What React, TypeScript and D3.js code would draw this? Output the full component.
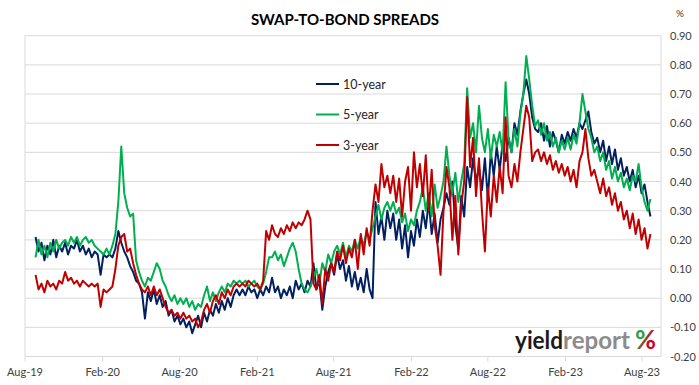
import React from "react";
import * as d3 from "d3";

// weekly readings, first week starting 26 Aug 2019
const firstWeek = new Date(2019, 7, 26);

const tenYear = [
  0.21, 0.16, 0.19, 0.13, 0.18, 0.15, 0.2, 0.14, 0.18, 0.16,
  0.19, 0.15, 0.18, 0.17, 0.2, 0.16, 0.18, 0.15, 0.17, 0.14,
  0.16, 0.15, 0.08, 0.15, 0.14, 0.15, 0.14, 0.17, 0.23, 0.19,
  0.16, 0.14, 0.11, 0.09, 0.06, 0.05, 0.02, -0.07, 0.02, -0.01,
  0.03, -0.02, 0.01, -0.03, -0.01, -0.06, -0.04, -0.08, -0.06, -0.09,
  -0.07, -0.1, -0.08, -0.12, -0.09, -0.06, -0.1, -0.05, -0.08, -0.04,
  -0.06, -0.02, -0.05, -0.01, -0.04, 0.0, -0.03, 0.01, 0.03, 0.01,
  0.03, 0.01, 0.04, 0.02, 0.03, 0.0, 0.03, 0.01, 0.04, 0.02,
  0.07, 0.02, 0.04, 0.0, 0.03, 0.01, 0.04, 0.0, 0.06, 0.03,
  0.05, 0.02, 0.06, 0.04, 0.12, 0.03, 0.06, -0.04, 0.04, 0.09,
  0.12, 0.08, 0.15, 0.1, 0.13, 0.06, 0.11, 0.04, 0.09, 0.03,
  0.07, 0.02, 0.1, 0.03, 0.0, 0.33, 0.22, 0.28, 0.2, 0.3,
  0.24, 0.29, 0.2, 0.27, 0.17, 0.25, 0.14, 0.23, 0.18, 0.27,
  0.21, 0.3, 0.24, 0.33, 0.22, 0.29, 0.19, 0.27, 0.31, 0.36,
  0.32, 0.4, 0.25, 0.17, 0.35, 0.28, 0.45, 0.38, 0.48, 0.4,
  0.45, 0.37, 0.48, 0.34, 0.5, 0.42, 0.52, 0.44, 0.53, 0.47,
  0.55, 0.5, 0.6, 0.56, 0.64, 0.7, 0.75, 0.7, 0.62, 0.58,
  0.57, 0.6, 0.54, 0.59, 0.52, 0.57, 0.54, 0.5, 0.56, 0.53,
  0.57, 0.54, 0.58, 0.55, 0.6, 0.58, 0.61, 0.64, 0.57, 0.53,
  0.55, 0.5, 0.54, 0.47, 0.52, 0.46, 0.51, 0.44, 0.48, 0.42,
  0.45, 0.4, 0.44, 0.38, 0.42, 0.36, 0.39, 0.33, 0.28,
];

const fiveYear = [
  0.14, 0.2, 0.15, 0.18, 0.14, 0.19, 0.16, 0.2, 0.17, 0.19,
  0.2, 0.18, 0.21, 0.19, 0.21, 0.18, 0.2, 0.21, 0.19, 0.2,
  0.18, 0.17, 0.16, 0.15, 0.17, 0.15, 0.18, 0.22, 0.33, 0.52,
  0.36, 0.31, 0.28, 0.29, 0.13, 0.09, 0.06, 0.04, 0.07, 0.06,
  0.09, 0.12, 0.1, 0.06, 0.04, 0.01, -0.01, 0.01, -0.02, 0.0,
  -0.02, 0.0, -0.03, -0.01, -0.04, -0.02, -0.03, 0.01, 0.04, -0.01,
  0.02, -0.01, 0.02, 0.04, 0.02, 0.05, 0.04, 0.06, 0.05, 0.06,
  0.05, 0.06, 0.04, 0.05, 0.06, 0.04, 0.03, 0.05, 0.09, 0.14,
  0.14, 0.16, 0.13, 0.15, 0.11, 0.14, 0.17, 0.19, 0.16, 0.1,
  0.05, 0.03, 0.02, 0.04, 0.07, 0.1, 0.05, 0.12, 0.09, 0.15,
  0.12, 0.16, 0.18, 0.15, 0.19, 0.14, 0.18, 0.16, 0.2, 0.17,
  0.21, 0.18, 0.23, 0.2, 0.24, 0.28, 0.32, 0.27, 0.31, 0.33,
  0.3, 0.33, 0.29, 0.31, 0.26, 0.29, 0.23, 0.27, 0.25, 0.3,
  0.33, 0.38, 0.3, 0.36, 0.28, 0.39, 0.31, 0.35, 0.4, 0.52,
  0.42, 0.36, 0.43, 0.33, 0.4, 0.46, 0.72, 0.55, 0.6, 0.5,
  0.66, 0.55, 0.5, 0.58, 0.48, 0.56, 0.52, 0.57, 0.5, 0.74,
  0.55, 0.5, 0.58, 0.52, 0.63, 0.7, 0.83, 0.75, 0.66, 0.59,
  0.61, 0.56, 0.6, 0.54, 0.57, 0.52, 0.55, 0.5, 0.54, 0.51,
  0.55, 0.51, 0.56, 0.53, 0.6, 0.7, 0.64, 0.58, 0.55, 0.5,
  0.52, 0.47, 0.5, 0.44, 0.47, 0.41, 0.45, 0.4, 0.43, 0.38,
  0.41, 0.37, 0.42, 0.4, 0.46, 0.38, 0.33, 0.3, 0.34,
];

const threeYear = [
  0.08, 0.03, 0.05, 0.02, 0.06, 0.04, 0.05, 0.03, 0.06, 0.05,
  0.09, 0.06, 0.07, 0.05, 0.06, 0.04, 0.06, 0.05, 0.04, 0.05,
  0.04, 0.05, -0.03, 0.03, 0.02, 0.03, 0.04, 0.1, 0.18, 0.21,
  0.22, 0.16, 0.17, 0.12, 0.08, 0.05, 0.03, 0.02, 0.04, 0.01,
  0.04, 0.01, 0.03, 0.0, -0.03, -0.05, -0.04, -0.06, -0.05, -0.07,
  -0.05, -0.07, -0.06, -0.08, -0.07, -0.1, -0.08, -0.04, -0.02, -0.05,
  -0.01, 0.01, -0.02, 0.02, 0.0, 0.03, 0.01, 0.04, 0.05, 0.04,
  0.05, 0.04, 0.06, 0.05, 0.04, 0.05, 0.03, 0.06, 0.23, 0.2,
  0.25, 0.22, 0.21, 0.24, 0.22, 0.25, 0.23, 0.26, 0.24, 0.26,
  0.25, 0.27, 0.3, 0.27, 0.05, 0.03, 0.08, -0.02, 0.1, 0.06,
  0.12, 0.09, 0.16, 0.13, 0.18, 0.12, 0.17, 0.14, 0.2, 0.1,
  0.22, 0.15, 0.24, 0.18, 0.3, 0.39, 0.33, 0.46, 0.38, 0.42,
  0.36, 0.42, 0.33, 0.41, 0.28, 0.4, 0.45, 0.3, 0.5, 0.38,
  0.46, 0.35, 0.49, 0.3, 0.44, 0.25, 0.18, 0.08, 0.3, 0.45,
  0.38, 0.2, 0.35, 0.15, 0.32, 0.4, 0.69, 0.45, 0.55, 0.35,
  0.48, 0.3, 0.16, 0.38, 0.28, 0.42, 0.33, 0.45, 0.36, 0.62,
  0.42, 0.38, 0.46, 0.4, 0.5, 0.58, 0.66, 0.62, 0.47, 0.5,
  0.51, 0.47, 0.5, 0.46, 0.49, 0.44, 0.47, 0.43, 0.46, 0.42,
  0.45, 0.4, 0.44, 0.38, 0.47, 0.5, 0.58, 0.48, 0.42, 0.44,
  0.4, 0.36, 0.41, 0.35, 0.38, 0.32, 0.36, 0.3, 0.33, 0.27,
  0.3, 0.24, 0.29, 0.22, 0.27, 0.2, 0.24, 0.17, 0.22,
];

const xTickLabels = [
  "Aug-19", "Feb-20", "Aug-20", "Feb-21", "Aug-21",
  "Feb-22", "Aug-22", "Feb-23", "Aug-23",
];
const yTicks = [-0.2, -0.1, 0, 0.1, 0.2, 0.3, 0.4, 0.5, 0.6, 0.7, 0.8, 0.9];

const seriesNames = ["10-year", "5-year", "3-year"];
const seriesColors = ["#002060", "#00B050", "#C00000"];

const W = 699;
const H = 385;
const FONT = "Lato, 'Open Sans', sans-serif";

export default function App() {
  const parse = d3.timeParse("%b-%y");
  const x = d3
    .scaleTime()
    .domain([new Date(2019, 7, 1), new Date(2023, 8, 15)])
    .range([25, 661]);
  const y = d3.scaleLinear().domain([-0.2, 0.9]).range([356.5, 35.7]);

  const line = d3
    .line<number>()
    .x((_, i) => x(d3.timeWeek.offset(firstWeek, i)))
    .y((d) => y(d));

  const series = [tenYear, fiveYear, threeYear];

  return (
    <svg
      width={W}
      height={H}
      style={{ position: "absolute", left: 0, top: 0, background: "#fff" }}
      fontFamily={FONT}
    >
      <text
        x={345}
        y={25}
        textAnchor="middle"
        fontSize={15}
        fontWeight="bold"
        fill="#000"
      >
        SWAP-TO-BOND SPREADS
      </text>
      <text x={680} y={17} textAnchor="middle" fontSize={10} fill="#404040">
        %
      </text>

      {/* gridlines */}
      {yTicks.map((t) => (
        <line
          key={t}
          x1={25}
          x2={661}
          y1={y(t)}
          y2={y(t)}
          stroke="#d9d9d9"
          strokeWidth={1}
        />
      ))}
      <line x1={25} x2={25} y1={y(0.9)} y2={y(-0.2)} stroke="#d9d9d9" />
      <line x1={661} x2={661} y1={y(0.9)} y2={y(-0.2)} stroke="#d9d9d9" />

      {/* x ticks */}
      {xTickLabels.map((lab) => {
        const px = x(parse(lab) as Date);
        return (
          <g key={lab}>
            <line
              x1={px}
              x2={px}
              y1={y(-0.2)}
              y2={y(-0.2) + 5}
              stroke="#d9d9d9"
            />
            <text
              x={px}
              y={376}
              textAnchor="middle"
              fontSize={11}
              fill="#404040"
            >
              {lab}
            </text>
          </g>
        );
      })}

      {/* y labels on the right */}
      {yTicks.map((t) => (
        <text
          key={t}
          x={670}
          y={y(t) + 4}
          fontSize={11}
          fill="#404040"
        >
          {t.toFixed(2)}
        </text>
      ))}

      {/* series */}
      {series.map((s, k) => (
        <path
          key={seriesNames[k]}
          d={line(s) ?? ""}
          fill="none"
          stroke={seriesColors[k]}
          strokeWidth={2}
          strokeLinejoin="round"
        />
      ))}

      {/* legend */}
      {seriesNames.map((name, k) => (
        <g key={name} transform={`translate(316, ${84 + k * 30.5})`}>
          <line x1={0} x2={23} y1={0} y2={0} stroke={seriesColors[k]} strokeWidth={2} />
          <text x={27} y={4.5} fontSize={12.5} fill="#262626">
            {name}
          </text>
        </g>
      ))}

      {/* logo */}
      <defs>
        <linearGradient id="pct" x1="0" y1="0" x2="1" y2="1">
          <stop offset="0.45" stopColor="#2f9e44" />
          <stop offset="0.55" stopColor="#d0021b" />
        </linearGradient>
      </defs>
      <text
        x={515}
        y={349}
        fontSize={24}
        fontWeight="bold"
        fill="#1a1a1a"
        textLength={48}
        lengthAdjust="spacingAndGlyphs"
      >
        yield
      </text>
      <text
        x={563}
        y={349}
        fontSize={24}
        fontWeight="bold"
        fill="#8c8c8c"
        textLength={67}
        lengthAdjust="spacingAndGlyphs"
      >
        report
      </text>
      <text
        x={635}
        y={349}
        fontSize={26}
        fontWeight="bold"
        fill="url(#pct)"
        textLength={21}
        lengthAdjust="spacingAndGlyphs"
      >
        %
      </text>
    </svg>
  );
}
